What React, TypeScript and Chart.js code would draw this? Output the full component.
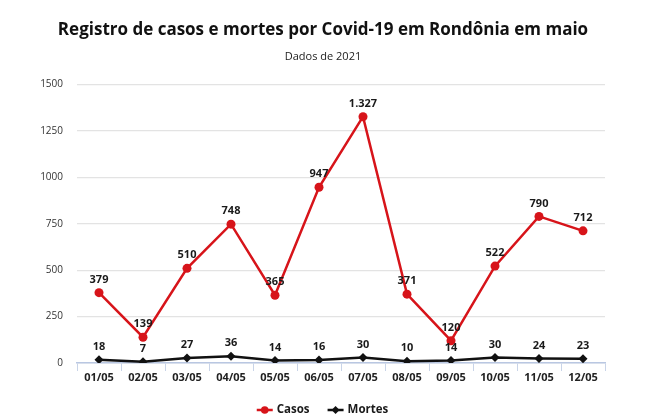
import { useEffect, useRef } from "react"
import { Chart, registerables } from "chart.js"

Chart.register(...registerables)

const dias = ["01/05", "02/05", "03/05", "04/05", "05/05", "06/05", "07/05", "08/05", "09/05", "10/05", "11/05", "12/05"]
const casos = [379, 139, 510, 748, 365, 947, 1327, 371, 120, 522, 790, 712]
const mortes = [18, 7, 27, 36, 14, 16, 30, 10, 14, 30, 24, 23]

const VERMELHO = "#d7141a"
const PRETO = "#111111"
const FONTE = "'Open Sans', sans-serif"

// rótulos de valor em cima dos pontos
const rotulos = {
  id: "rotulos",
  afterDatasetsDraw(chart: Chart) {
    const ctx = chart.ctx
    ctx.save()
    ctx.font = `bold 11px ${FONTE}`
    ctx.fillStyle = "#1a1a1a"
    ctx.textAlign = "center"
    ctx.textBaseline = "middle"
    chart.data.datasets.forEach((ds, i) => {
      const meta = chart.getDatasetMeta(i)
      meta.data.forEach((pt, j) => {
        const v = ds.data[j] as number
        ctx.fillText(v.toLocaleString("pt-BR"), pt.x, pt.y - 13)
      })
    })
    ctx.restore()
  },
}

// legenda desenhada à mão: linha com marcador + nome
const legenda = {
  id: "legendaLinha",
  afterDraw(chart: Chart) {
    const ctx = chart.ctx
    ctx.save()
    ctx.font = `bold 11.5px ${FONTE}`
    ctx.textBaseline = "middle"
    const itens = chart.data.datasets.map((ds) => ({
      texto: ds.label as string,
      cor: ds.borderColor as string,
      estilo: (ds as any).pointStyle as string,
    }))
    const icone = 16
    const gap = 4
    const entre = 18
    const larguras = itens.map((it) => icone + gap + ctx.measureText(it.texto).width)
    const total = larguras.reduce((a, b) => a + b, 0) + entre * (itens.length - 1)
    let x = 322.5 - total / 2
    const y = chart.height - 4
    itens.forEach((it, i) => {
      ctx.strokeStyle = it.cor
      ctx.fillStyle = it.cor
      ctx.lineWidth = 2.5
      ctx.beginPath()
      ctx.moveTo(x, y)
      ctx.lineTo(x + icone, y)
      ctx.stroke()
      const cx = x + icone / 2
      ctx.beginPath()
      if (it.estilo === "rectRot") {
        ctx.moveTo(cx, y - 4)
        ctx.lineTo(cx + 4, y)
        ctx.lineTo(cx, y + 4)
        ctx.lineTo(cx - 4, y)
        ctx.closePath()
      } else {
        ctx.arc(cx, y, 3.8, 0, Math.PI * 2)
      }
      ctx.fill()
      ctx.fillStyle = "#1a1a1a"
      ctx.textAlign = "left"
      ctx.fillText(it.texto, x + icone + gap, y)
      x += larguras[i] + entre
    })
    ctx.restore()
  },
}

export default function App() {
  const canvasRef = useRef<HTMLCanvasElement>(null)
  const chartRef = useRef<Chart | null>(null)

  useEffect(() => {
    document.body.style.margin = "0"
    if (!canvasRef.current) return
    chartRef.current?.destroy()

    chartRef.current = new Chart(canvasRef.current, {
      type: "line",
      data: {
        labels: dias,
        datasets: [
          {
            label: "Casos",
            data: casos,
            borderColor: VERMELHO,
            backgroundColor: VERMELHO,
            borderWidth: 2.5,
            pointStyle: "circle",
            pointRadius: 4.5,
            pointBorderWidth: 0,
            tension: 0,
          },
          {
            label: "Mortes",
            data: mortes,
            borderColor: PRETO,
            backgroundColor: PRETO,
            borderWidth: 2.5,
            pointStyle: "rectRot",
            pointRadius: 4.5,
            pointBorderWidth: 0,
            tension: 0,
          },
        ],
      },
      options: {
        responsive: true,
        maintainAspectRatio: false,
        animation: false,
        layout: { padding: { top: 20, right: 19, bottom: 21, left: 0 } },
        plugins: {
          title: {
            display: true,
            text: "Registro de casos e mortes por Covid-19 em Rondônia em maio",
            color: "#111",
            font: { family: FONTE, size: 17, weight: "bold" },
            padding: { top: 0, bottom: 10 },
          },
          subtitle: {
            display: true,
            text: "Dados de 2021",
            color: "#222",
            font: { family: FONTE, size: 11 },
            padding: { top: 0, bottom: 21 },
          },
          legend: { display: false },
          tooltip: { enabled: false },
        },
        scales: {
          x: {
            offset: true,
            afterFit: (scale) => {
              scale.height = 30
            },
            grid: {
              offset: true,
              drawOnChartArea: false,
              drawTicks: true,
              tickLength: 8,
              color: "#c9d4e8",
            },
            border: { color: "#b9c7e2", width: 1.5 },
            ticks: {
              color: "#222",
              font: { family: FONTE, size: 11, weight: "bold" },
              padding: 0,
              maxRotation: 0,
            },
          },
          y: {
            min: 0,
            max: 1500,
            afterFit: (scale) => {
              scale.width = 77
            },
            grid: { color: "#e3e3e3", drawTicks: false, lineWidth: 1.2 },
            border: { display: false },
            ticks: {
              stepSize: 250,
              color: "#333",
              padding: 14,
              font: { family: FONTE, size: 10 },
              callback: (v) => String(v),
            },
          },
          // eixo vazio à direita só para reservar espaço
          direita: {
            position: "right",
            afterFit: (scale) => {
              scale.width = 41
            },
            grid: { display: false },
            border: { display: false },
            ticks: { display: false },
          },
        },
      },
      plugins: [rotulos, legenda],
    })

    return () => {
      chartRef.current?.destroy()
      chartRef.current = null
    }
  }, [])

  return (
    <div style={{ width: 665, height: 414, position: "relative", background: "#fff" }}>
      <canvas ref={canvasRef}></canvas>
    </div>
  )
}
